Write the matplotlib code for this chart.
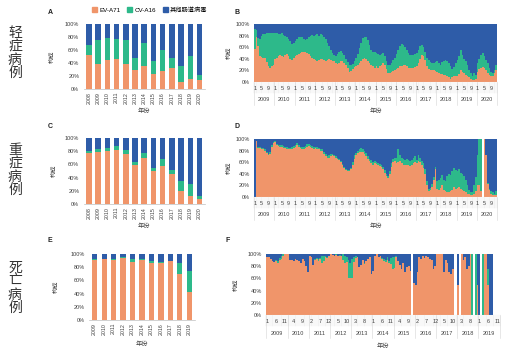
import numpy as np
import matplotlib
matplotlib.use("Agg")
import matplotlib.pyplot as plt
from matplotlib.patches import Patch

plt.rcParams['font.family'] = ['Liberation Sans', 'Noto Sans CJK SC']

ORANGE = '#F0956A'
GREEN = '#2DB98A'
BLUE = '#2E5CA8'
TXT = '#404040'

# yearly shares (%) - panels A, C (2008-2020) and E (2009-2019)
years_ac = [str(y) for y in range(2008, 2021)]
A_ev = [52, 39, 44, 46, 38, 30, 36, 23, 27, 33, 11, 15, 14]
A_cv = [15, 36, 34, 31, 38, 17, 35, 20, 33, 15, 24, 36, 8]
C_ev = [78, 79, 80, 82, 76, 59, 70, 50, 57, 46, 19, 12, 7]
C_cv = [3, 5, 5, 6, 6, 4, 8, 5, 11, 5, 16, 18, 5]
years_e = [str(y) for y in range(2009, 2020)]
E_ev = [91, 92, 91, 94, 88, 91, 87, 87, 89, 70, 43]
E_cv = [2, 0, 2, 1, 4, 2, 3, 1, 1, 17, 31]

nan = np.nan
# monthly shares, B: mild cases 2009-2020 (EV-A71 and EV-A71+CV-A16 boundary)
B_ev = [57, 77, 62, 45, 43, 42, 41, 35, 27, 25, 28, 30,
        40, 42, 44, 46, 45, 43, 47, 48, 45, 40, 38, 42,
        45, 46, 48, 50, 51, 52, 51, 50, 48, 45, 42, 40,
        38, 37, 38, 39, 40, 38, 37, 38, 40, 38, 36, 37,
        33, 31, 33, 36, 37, 33, 30, 24, 18, 19, 22, 26,
        28, 30, 33, 37, 40, 41, 39, 36, 33, 30, 27, 24,
        27, 25, 28, 30, 33, 30, 22, 15, 15, 17, 19, 21,
        22, 24, 27, 28, 30, 29, 27, 25, 24, 25, 24, 26,
        28, 33, 40, 46, 45, 38, 28, 22, 20, 20, 20, 19,
        17, 15, 14, 13, 12, 12, 10, 8, 6, 8, 10, 11,
        10, 14, 20, 17, 15, 12, 10, 8, 5, 4, 4, 5,
        18, 22, 25, 26, 24, 20, 16, 12, 10, 11, 16, 21]
B_top = [92, 90, 76, 74, 80, 82, 82, 84, 85, 85, 84, 84,
         84, 84, 82, 83, 84, 81, 80, 78, 75, 70, 66, 68,
         70, 74, 77, 78, 77, 74, 72, 75, 78, 80, 81, 80,
         81, 82, 80, 82, 81, 78, 74, 68, 62, 56, 50, 46,
         45, 48, 52, 54, 50, 46, 40, 34, 30, 29, 31, 36,
         42, 48, 58, 68, 76, 78, 77, 72, 64, 56, 52, 51,
         50, 48, 47, 48, 50, 45, 36, 30, 30, 33, 38, 42,
         48, 55, 62, 66, 64, 60, 55, 50, 46, 47, 46, 48,
         50, 56, 62, 64, 60, 52, 42, 38, 35, 33, 32, 34,
         36, 32, 30, 34, 36, 38, 37, 33, 28, 22, 26, 32,
         38, 44, 55, 46, 40, 36, 30, 20, 15, 10, 16, 12,
         33, 40, 47, 50, 45, 38, 32, 25, 18, 15, 20, 29]

# D: severe cases 2009-2020
D_ev = [0, 96, 84, 84, 83, 82, 80, 76, 72, 74, 86, 93,
        94, 90, 88, 86, 86, 85, 84, 83, 82, 82, 83, 85,
        86, 90, 87, 84, 83, 82, 84, 87, 88, 86, 84, 83,
        84, 83, 82, 80, 79, 74, 70, 67, 68, 70, 72, 70,
        68, 66, 64, 60, 55, 50, 46, 44, 44, 48, 56, 66,
        72, 76, 78, 78, 77, 74, 70, 66, 62, 58, 55, 58,
        57, 56, 54, 52, 48, 42, 36, 32, 40, 52, 60, 62,
        58, 60, 62, 58, 55, 55, 56, 55, 54, 56, 58, 60,
        58, 62, 60, 56, 50, 40, 20, 10, 12, 18, 30, 48,
        14, 12, 15, 20, 12, 10, 9, 8, 10, 12, 18, 14,
        16, 18, 14, 12, 10, 8, 6, 5, 4, 4, 6, 10,
        20, 20, 10, nan, 100, 72, 22, 12, 6, 4, 3, 4]
D_top = [0, 97, 86, 86, 85, 84, 82, 78, 74, 77, 89, 95,
         96, 92, 90, 89, 89, 88, 87, 86, 85, 85, 86, 88,
         89, 93, 90, 87, 86, 86, 88, 91, 92, 90, 88, 87,
         87, 86, 85, 83, 82, 78, 74, 71, 72, 74, 75, 73,
         70, 68, 66, 62, 57, 52, 48, 46, 46, 50, 60, 72,
         76, 80, 83, 84, 83, 80, 76, 70, 66, 63, 60, 62,
         60, 59, 57, 55, 52, 46, 40, 36, 45, 58, 66, 68,
         68, 82, 72, 68, 66, 64, 66, 63, 62, 64, 68, 70,
         64, 72, 68, 62, 58, 48, 28, 14, 16, 22, 35, 52,
         28, 30, 32, 38, 30, 28, 36, 40, 38, 44, 50, 46,
         44, 48, 42, 40, 36, 30, 20, 12, 8, 8, 20, 35,
         72, 100, 100, nan, 100, 72, 24, 14, 10, 8, 6, 10]

# F: deaths 2009-2019 (nan = month without deaths)
F_ev = [95, 95, 92, 88, 87, 88, 85, 90, 92, 97, 100, 100,
        100, 90, 90, 88, 92, 90, 88, 85, 92, 88, 80, 70,
        97, 95, 82, 90, 91, 88, 91, 86, 89, 95, 93, 96,
        100, 98, 97, 98, 97, 96, 97, 90, 85, 87, 60, 60,
        60, 87, 93, 95, 78, 82, 90, 83, 88, 92, 95, 68,
        72, 97, 100, 95, 96, 92, 89, 87, 90, 85, 84, 75,
        77, 95, 88, 82, 75, 85, 70, 78, 80, 72, nan, 52,
        50, 70, 95, 92, 96, 94, 97, 95, 92, 90, 75, 80,
        100, 100, 100, 100, 70, 90, 85, 70, 68, 75, nan, nan,
        50, nan, 100, 90, 95, 75, 80, 100, 0, nan, 0, 50,
        0, nan, 0, 100, 100, 50, 0, 0, nan, nan, nan, nan]
F_top = [95, 95, 92, 88, 87, 90, 88, 94, 97, 100, 100, 100,
         100, 90, 90, 88, 92, 90, 88, 85, 92, 88, 80, 70,
         97, 95, 82, 92, 94, 92, 94, 96, 97, 97, 95, 96,
         100, 98, 97, 100, 97, 98, 97, 100, 97, 95, 90, 85,
         92, 95, 97, 95, 78, 82, 90, 85, 88, 92, 95, 68,
         72, 97, 100, 95, 96, 94, 92, 90, 95, 88, 94, 95,
         95, 97, 88, 82, 75, 85, 70, 78, 80, 72, nan, 52,
         50, 70, 95, 92, 96, 94, 97, 95, 92, 90, 75, 80,
         100, 100, 100, 100, 70, 90, 85, 70, 68, 75, nan, nan,
         50, nan, 100, 90, 95, 75, 80, 100, 100, nan, 100, 50,
         0, nan, 100, 100, 100, 75, 0, 0, nan, nan, nan, nan]

W, H = 515, 351
fig = plt.figure(figsize=(W / 100, H / 100), dpi=100)


def add_ax(x0, x1, y0, y1):
    return fig.add_axes([x0 / W, 1 - y1 / H, (x1 - x0) / W, (y1 - y0) / H])


def style_y(ax):
    ax.set_ylim(0, 100)
    ax.set_yticks(range(0, 101, 20))
    ax.set_yticklabels([f'{v}%' for v in range(0, 101, 20)])
    ax.tick_params(axis='y', length=0, pad=3, labelsize=4, labelcolor=TXT)
    for s in ['top', 'right', 'left']:
        ax.spines[s].set_visible(False)


def year_bars(ax, labels, ev, cv, width, ylab_x, xlab_y):
    x = np.arange(len(labels))
    ev = np.array(ev)
    cv = np.array(cv)
    ax.bar(x, ev, width, color=ORANGE, linewidth=0)
    ax.bar(x, cv, width, bottom=ev, color=GREEN, linewidth=0)
    ax.bar(x, 100 - ev - cv, width, bottom=ev + cv, color=BLUE, linewidth=0)
    ax.set_xlim(-0.6, len(labels) - 0.4)
    style_y(ax)
    ax.spines['bottom'].set_color('#bfbfbf')
    ax.spines['bottom'].set_linewidth(0.5)
    ax.set_xticks(x)
    ax.set_xticklabels(labels, rotation=90)
    ax.tick_params(axis='x', length=0, pad=2, labelsize=3.8, labelcolor=TXT)
    ax.set_ylabel('构成', fontsize=4.5, color=TXT)
    ax.yaxis.set_label_coords(ylab_x, 0.5)
    ax.set_xlabel('年份', fontsize=4.5, color=TXT)
    ax.xaxis.set_label_coords(0.5, xlab_y)


def month_bars(ax, ev, top, start_year, step, lab_y, year_y, tick_low, year_low, ylab_x, xlab_y):
    ev = np.array(ev, float)
    top = np.array(top, float)
    n = len(ev)
    gap = np.isnan(ev)
    ev0 = np.where(gap, 0, ev)
    top0 = np.where(gap, 0, top)
    full = np.where(gap, 0, 100)
    edges = np.arange(n + 1) - 0.5
    ax.stairs(ev0, edges, baseline=0, fill=True, color=ORANGE, linewidth=0)
    ax.stairs(top0, edges, baseline=ev0, fill=True, color=GREEN, linewidth=0)
    ax.stairs(full, edges, baseline=top0, fill=True, color=BLUE, linewidth=0)
    ax.set_xlim(-0.5, n - 0.5)
    style_y(ax)
    ax.spines['bottom'].set_visible(False)
    ax.set_xticks([])
    tr = ax.get_xaxis_transform()
    # month row with light grid lines
    for b in edges:
        ax.plot([b, b], [0, tick_low], transform=tr, color='#dedede', lw=0.3, clip_on=False)
    for m in range(0, n, step):
        ax.text(m, lab_y, str(m % 12 + 1), transform=tr, ha='center', va='center',
                fontsize=4, color=TXT)
    # year row
    for k in range(n // 12):
        ax.text(12 * k + 5.5, year_y, str(start_year + k), transform=tr, ha='center',
                va='center', fontsize=4, color=TXT)
    for k in range(n // 12 + 1):
        ax.plot([12 * k - 0.5] * 2, [0, year_low], transform=tr, color='#d4d4d4',
                lw=0.4, clip_on=False)
    ax.set_ylabel('构成', fontsize=4.5, color=TXT)
    ax.yaxis.set_label_coords(ylab_x, 0.5)
    ax.set_xlabel('年份', fontsize=4.5, color=TXT)
    ax.xaxis.set_label_coords(0.5, xlab_y)


axA = add_ax(83.5, 205, 24, 89)
year_bars(axA, years_ac, A_ev, A_cv, 0.6, -0.24, -0.3)
axC = add_ax(83.5, 205, 138, 204)
year_bars(axC, years_ac, C_ev, C_cv, 0.6, -0.22, -0.29)
axE = add_ax(89, 195, 254, 320)
year_bars(axE, years_e, E_ev, E_cv, 0.55, -0.29, -0.33)

axB = add_ax(254, 497, 24, 82)
month_bars(axB, B_ev, B_top, 2009, 4, -0.12, -0.31, -0.19, -0.4, -0.09, -0.45)
axD = add_ax(254, 497, 139, 197)
month_bars(axD, D_ev, D_top, 2009, 4, -0.12, -0.31, -0.19, -0.4, -0.09, -0.45)
axF = add_ax(266.4, 499.7, 254, 315)
month_bars(axF, F_ev, F_top, 2009, 5, -0.1, -0.3, -0.18, -0.38, -0.12, -0.46)

# panel letters
for lab, (px, py) in zip('ABCDEF', [(50, 12), (237, 12), (50, 127), (237, 127), (50, 240), (228, 240)]):
    fig.text(px / W, 1 - py / H, lab, fontsize=5, weight='bold', ha='center', va='center', color='#222222')

# row titles
for title, py in [('轻症病例', 53), ('重症病例', 170), ('死亡病例', 288)]:
    fig.text(15 / W, 1 - py / H, '\n'.join(title), fontsize=10, ha='center', va='center',
             linespacing=0.95, color='#333333', family='Noto Sans CJK SC', weight='light')

handles = [Patch(color=ORANGE, label='EV-A71'), Patch(color=GREEN, label='CV-A16'),
           Patch(color=BLUE, label='其他肠道病毒')]
fig.legend(handles=handles, loc='center', bbox_to_anchor=(150 / W, 1 - 10 / H), ncol=3,
           frameon=False, fontsize=4.5, handlelength=0.8, handleheight=0.8,
           columnspacing=1.0, handletextpad=0.4, borderpad=0)

fig.savefig('out.png', dpi=100)
